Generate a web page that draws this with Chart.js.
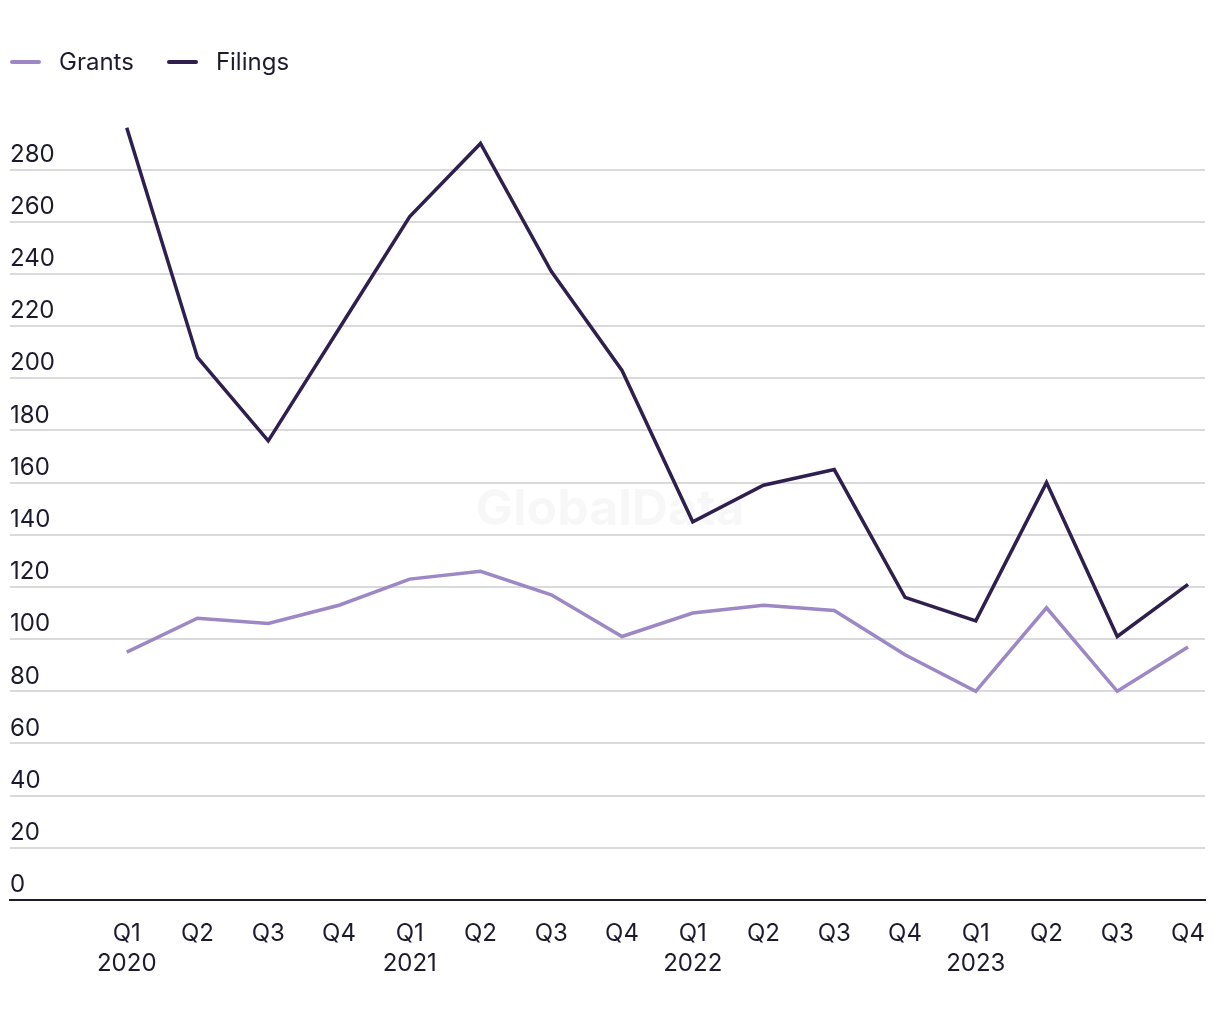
<!DOCTYPE html>
<html>
<head>
<meta charset="utf-8">
<script src="https://cdn.jsdelivr.net/npm/chart.js@4.4.1/dist/chart.umd.min.js"></script>
<style>
  body { margin: 0; background: #fff; }
  #wrap { width: 1220px; height: 1020px; position: relative; }
  .legend { position: absolute; left: 10px; top: 47px; display: flex; align-items: center; font: 24px Inter, sans-serif; color: #1c1b2e; }
  .legend .item { display: flex; align-items: center; margin-right: 33px; }
  .legend .swatch { width: 31px; height: 4px; border-radius: 2px; margin-right: 18px; }
</style>
</head>
<body>
<div id="wrap">
  <canvas id="chart"></canvas>
  <div class="legend" id="legend"></div>
</div>
<script>
const quarters = ["Q1", "Q2", "Q3", "Q4", "Q1", "Q2", "Q3", "Q4", "Q1", "Q2", "Q3", "Q4", "Q1", "Q2", "Q3", "Q4"];
const years = ["2020", "", "", "", "2021", "", "", "", "2022", "", "", "", "2023", "", "", ""];
const grants = [95, 108, 106, 113, 123, 126, 117, 101, 110, 113, 111, 94, 80, 112, 80, 97];
const filings = [296, 208, 176, 219, 262, 290, 241, 203, 145, 159, 165, 116, 107, 160, 101, 121];

const textColor = "#1c1b2e";
const font = "Inter, sans-serif";

// faint watermark in the middle of the plot
const watermark = {
  id: "watermark",
  beforeDatasetsDraw(chart) {
    const { ctx } = chart;
    ctx.save();
    ctx.font = "bold 50px " + font;
    ctx.fillStyle = "rgba(0,0,0,0.03)";
    ctx.textAlign = "center";
    ctx.textBaseline = "middle";
    ctx.fillText("GlobalData", 610, 510);
    ctx.restore();
  },
};

const chart = new Chart(document.getElementById("chart"), {
  type: "line",
  data: {
    datasets: [
      {
        label: "Grants",
        data: grants.map((v, i) => ({ x: i, y: v })),
        borderColor: "#9d87c4",
        backgroundColor: "#9d87c4",
        borderWidth: 3.5,
        pointRadius: 0,
        tension: 0,
      },
      {
        label: "Filings",
        data: filings.map((v, i) => ({ x: i, y: v })),
        borderColor: "#2f1f4e",
        backgroundColor: "#2f1f4e",
        borderWidth: 3.5,
        pointRadius: 0,
        tension: 0,
      },
    ],
  },
  options: {
    responsive: true,
    maintainAspectRatio: false,
    animation: false,
    layout: { padding: { left: 10, right: 15, top: 120, bottom: 22 } },
    plugins: {
      legend: { display: false },
      tooltip: { enabled: false },
    },
    scales: {
      x: {
        type: "linear",
        min: -1.65,
        max: 15.24,
        afterBuildTicks: (scale) => {
          scale.ticks = quarters.map((q, i) => ({ value: i }));
        },
        // gridlines run right to the edge, don't reserve room for the last label
        afterFit: (scale) => {
          scale.paddingLeft = 0;
          scale.paddingRight = 0;
        },
        grid: { display: false, drawTicks: false },
        border: { display: true, color: textColor, width: 2 },
        ticks: {
          color: textColor,
          font: { family: font, size: 24, lineHeight: 1.25 },
          padding: 19,
          maxRotation: 0,
          autoSkip: false,
          callback: (v) => (years[v] ? [quarters[v], years[v]] : quarters[v]),
        },
      },
      y: {
        min: 0,
        max: 299,
        grid: { color: "#dadada", lineWidth: 2, drawTicks: false },
        border: { display: false },
        ticks: {
          stepSize: 20,
          includeBounds: false,
          mirror: true,
          padding: 0,
          labelOffset: -15,
          color: textColor,
          font: { family: font, size: 24 },
        },
      },
    },
  },
  plugins: [watermark],
});

// legend drawn as html so the swatch/text spacing matches
const legendEl = document.getElementById("legend");
chart.data.datasets.forEach((ds) => {
  const item = document.createElement("div");
  item.className = "item";
  const sw = document.createElement("span");
  sw.className = "swatch";
  sw.style.background = ds.borderColor;
  const label = document.createElement("span");
  label.textContent = ds.label;
  item.appendChild(sw);
  item.appendChild(label);
  legendEl.appendChild(item);
});
</script>
</body>
</html>
